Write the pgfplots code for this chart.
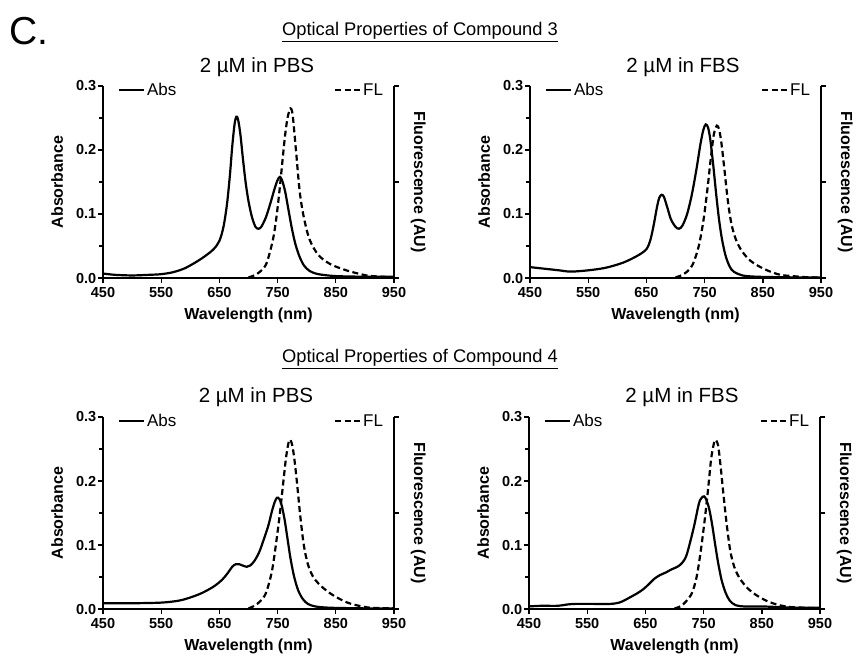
\documentclass[border=0pt]{standalone}
\usepackage{fontspec}
\setmainfont{Liberation Sans}
\usepackage{pgfplots}
\pgfplotsset{compat=1.18}

\pgfplotsset{
  panel/.style={scale only axis, width=291pt, height=192pt,
    xmin=450, xmax=950, ymin=0, ymax=0.3,
    axis line style={line width=1.5pt}, tick style={line width=1.4pt, black},
    tick align=outside, major tick length=5pt, minor tick length=4pt,
    /pgf/number format/assume math mode=true,
    every tick label/.append style={font=\bfseries\fontsize{14.5}{14.5}\selectfont, inner sep=1.5pt},
    xticklabel style={yshift=-3pt},
    label style={font=\bfseries\fontsize{16}{16}\selectfont},
  },
  spec/.style={line width=2.2pt, black, smooth, tension=0.5},
  fl/.style={spec, dash pattern=on 6pt off 3.5pt},
  leftax/.style={panel, axis x line*=bottom, axis y line*=left,
    xtick={450,550,650,750,850,950},
    ytick={0,0.1,0.2,0.3}, yticklabels={0.0,0.1,0.2,0.3},
    minor ytick={0.05,0.15,0.25},
    xlabel={Wavelength (nm)}, ylabel={Absorbance},
    xlabel shift=5pt, ylabel shift=8pt,
    legend style={at={(0.04,1.035)}, anchor=north west, draw=none, fill=none,
      font=\fontsize{17}{17}\selectfont},
    legend image code/.code={\draw[##1] (0pt,0pt) -- (25pt,0pt);},
  },
  rightax/.style={panel, axis x line=none, axis y line*=right,
    ytick={0,0.15,0.3}, yticklabels={},
    ylabel={Fluorescence (AU)}, ylabel style={rotate=180}, ylabel shift=5pt,
    legend style={at={(0.98,1.035)}, anchor=north east, draw=none, fill=none,
      font=\fontsize{17}{17}\selectfont},
    legend image code/.code={\draw[##1] (0pt,0pt) -- (25pt,0pt);},
  },
}

\begin{document}
\begin{tikzpicture}[x=1pt,y=1pt]
\path[use as bounding box] (0,0) rectangle (859,-657);

% headings
\node[font=\fontsize{39}{39}\selectfont] at (29,-31) {C.};
\node[font=\fontsize{18.3}{18}\selectfont] at (420,-32) {\underline{Optical Properties of Compound 3}};
\node[font=\fontsize{18.3}{18}\selectfont] at (420,-359) {\underline{Optical Properties of Compound 4}};
\node[font=\fontsize{20.5}{20}\selectfont] at (257,-67) {2 µM in PBS};
\node[font=\fontsize{20.5}{20}\selectfont] at (683,-67) {2 µM in FBS};
\node[font=\fontsize{20.5}{20}\selectfont] at (256,-397) {2 µM in PBS};
\node[font=\fontsize{20.5}{20}\selectfont] at (682,-397) {2 µM in FBS};

% ---- compound 3, PBS ----
\begin{axis}[leftax, at={(103pt,-278pt)}, anchor=south west]
\addplot[spec] coordinates {
(450,0.007)(470,0.005)(500,0.004)(530,0.005)(550,0.006)(570,0.009)(590,0.015)(610,0.025)
(625,0.034)(640,0.045)(650,0.058)(657,0.08)(663,0.115)(668,0.16)(672,0.205)(676,0.24)
(679,0.252)(682,0.248)(686,0.225)(690,0.19)(695,0.15)(700,0.12)(706,0.095)(712,0.08)
(717,0.077)(722,0.08)(730,0.095)(738,0.118)(745,0.14)(750,0.153)(754,0.158)(758,0.152)
(763,0.135)(768,0.11)(774,0.08)(780,0.055)(787,0.035)(795,0.02)(805,0.011)(820,0.006)
(850,0.003)(900,0.002)(950,0.002)};
\addlegendentry{Abs}
\end{axis}
\begin{axis}[rightax, at={(103pt,-278pt)}, anchor=south west]
\addplot[fl] coordinates {
(700,0.001)(710,0.004)(720,0.01)(731,0.023)(742,0.06)(748,0.095)(754,0.143)(762,0.216)
(767,0.25)(772,0.265)(775,0.26)(777,0.245)(782,0.195)(788,0.135)(795,0.095)(805,0.06)
(820,0.036)(840,0.022)(868,0.012)(903,0.004)(930,0.002)(950,0.001)};
\addlegendentry{FL}
\end{axis}

% ---- compound 3, FBS ----
\begin{axis}[leftax, at={(530pt,-278pt)}, anchor=south west]
\addplot[spec] coordinates {
(450,0.017)(470,0.015)(500,0.012)(520,0.010)(550,0.012)(580,0.016)(610,0.024)(635,0.035)
(650,0.045)(657,0.06)(663,0.085)(668,0.11)(672,0.125)(676,0.13)(680,0.127)(686,0.11)
(692,0.092)(700,0.08)(706,0.077)(712,0.082)(720,0.1)(728,0.13)(736,0.17)(743,0.21)
(748,0.232)(752,0.24)(756,0.235)(760,0.215)(765,0.175)(770,0.13)(775,0.09)(780,0.06)
(786,0.035)(793,0.018)(800,0.01)(815,0.004)(840,0.002)(900,0.001)(950,0.001)};
\addlegendentry{Abs}
\end{axis}
\begin{axis}[rightax, at={(530pt,-278pt)}, anchor=south west]
\addplot[fl] coordinates {
(700,0.001)(710,0.004)(720,0.01)(730,0.022)(740,0.05)(748,0.09)(755,0.14)(761,0.19)
(766,0.225)(771,0.238)(775,0.232)(779,0.21)(784,0.17)(790,0.12)(796,0.085)(803,0.062)
(812,0.045)(825,0.03)(840,0.02)(860,0.011)(880,0.005)(900,0.003)(930,0.001)(950,0.001)};
\addlegendentry{FL}
\end{axis}

% ---- compound 4, PBS ----
\begin{axis}[leftax, at={(103pt,-609pt)}, anchor=south west]
\addplot[spec] coordinates {
(450,0.009)(500,0.009)(550,0.01)(580,0.013)(600,0.018)(620,0.025)(640,0.035)(655,0.046)
(665,0.057)(672,0.066)(678,0.07)(684,0.07)(690,0.068)(697,0.066)(703,0.068)(710,0.075)
(718,0.088)(726,0.108)(734,0.13)(740,0.152)(745,0.167)(749,0.174)(753,0.172)(757,0.162)
(762,0.14)(767,0.11)(772,0.08)(778,0.052)(785,0.03)(793,0.016)(802,0.008)(815,0.004)
(840,0.002)(900,0.001)(950,0.001)};
\addlegendentry{Abs}
\end{axis}
\begin{axis}[rightax, at={(103pt,-609pt)}, anchor=south west]
\addplot[fl] coordinates {
(700,0.001)(710,0.005)(720,0.012)(730,0.025)(740,0.058)(747,0.1)(754,0.15)(760,0.2)
(765,0.24)(770,0.264)(774,0.26)(778,0.24)(783,0.2)(789,0.145)(795,0.1)(802,0.07)
(810,0.052)(820,0.04)(835,0.028)(850,0.019)(870,0.01)(890,0.005)(910,0.002)(950,0.001)};
\addlegendentry{FL}
\end{axis}

% ---- compound 4, FBS ----
\begin{axis}[leftax, at={(529pt,-609pt)}, anchor=south west]
\addplot[spec] coordinates {
(450,0.004)(470,0.005)(500,0.005)(515,0.007)(530,0.008)(560,0.008)(590,0.008)(605,0.01)
(615,0.014)(625,0.019)(635,0.024)(645,0.03)(655,0.038)(665,0.047)(675,0.053)(685,0.057)
(695,0.062)(705,0.066)(713,0.072)(721,0.085)(733,0.127)(742,0.165)(747,0.174)(751,0.176)
(755,0.17)(760,0.155)(765,0.13)(770,0.1)(775,0.072)(781,0.045)(788,0.025)(795,0.013)
(805,0.006)(820,0.004)(850,0.004)(880,0.003)(910,0.002)(950,0.002)};
\addlegendentry{Abs}
\end{axis}
\begin{axis}[rightax, at={(529pt,-609pt)}, anchor=south west]
\addplot[fl] coordinates {
(700,0.001)(710,0.004)(720,0.012)(730,0.025)(738,0.05)(745,0.09)(752,0.14)(758,0.19)
(763,0.235)(768,0.26)(771,0.264)(775,0.255)(779,0.225)(784,0.18)(790,0.13)(796,0.09)
(803,0.065)(812,0.048)(825,0.033)(840,0.022)(860,0.012)(880,0.006)(900,0.003)(925,0.002)
(950,0.001)};
\addlegendentry{FL}
\end{axis}
\end{tikzpicture}
\end{document}
